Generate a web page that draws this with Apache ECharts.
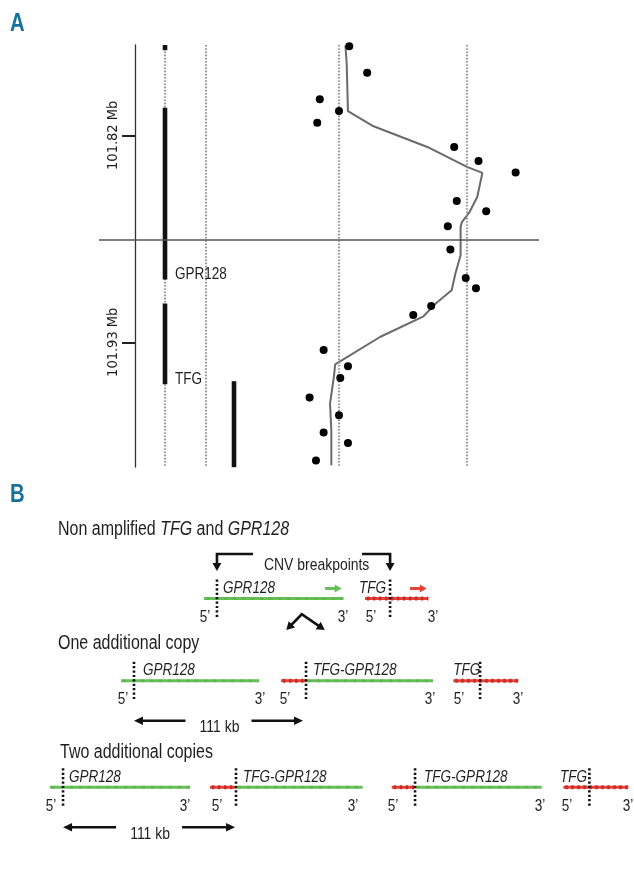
<!DOCTYPE html>
<html><head><meta charset="utf-8">
<script src="https://cdn.jsdelivr.net/npm/echarts@6/dist/echarts.min.js"></script>
<style>html,body{margin:0;padding:0;background:#fff}#c{width:634px;height:874px}</style>
</head><body><div id="c"></div>
<script>
// ================= Panel A data =================
const positionTicksMb = [101.82, 101.93];
const probePositionMb = [101.7727, 101.7867, 101.8009, 101.8071, 101.8133, 101.8262, 101.8337, 101.8398, 101.8549, 101.8604, 101.8684, 101.8807, 101.8958, 101.9013, 101.9107, 101.9155, 101.9341, 101.9428, 101.9490, 101.9594, 101.9688, 101.9780, 101.9835, 101.9929];
const probeCopyNumber = [2.08, 2.22, 1.85, 2.00, 1.83, 2.90, 3.09, 3.38, 2.92, 3.15, 2.85, 2.87, 2.99, 3.07, 2.72, 2.58, 1.88, 2.07, 2.01, 1.77, 2.00, 1.88, 2.07, 1.82];
const smoothPositionMb = [101.7722, 101.7817, 101.8072, 101.8152, 101.8262, 101.8368, 101.8400, 101.8528, 101.8608, 101.8661, 101.8687, 101.8838, 101.8933, 101.9024, 101.9091, 101.9162, 101.9272, 101.9417, 101.9484, 101.9626, 101.9768, 101.9954];
const smoothCopyNumber = [2.05, 2.06, 2.07, 2.27, 2.69, 3.00, 3.12, 3.08, 3.02, 2.96, 2.95, 2.95, 2.91, 2.88, 2.76, 2.66, 2.32, 1.97, 1.96, 1.93, 1.94, 1.94];
const referenceCopyNumbers = [2, 3];
const boundaryMb = [101.8753];
const geneNames = ['', 'GPR128', 'TFG'];
const geneStartMb = [101.7720, 101.8053, 101.9094];
const geneEndMb = [101.7748, 101.8967, 101.9523];
const cnvStartMb = [101.9507];
const cnvEndMb = [101.9964];

// ================= Panel B data (kb) =================
const rowTitles = ['Non amplified {i|TFG} and {i|GPR128}', 'One additional copy', 'Two additional copies'];
const segRow = [0, 0, 1, 1, 1, 1, 2, 2, 2, 2, 2, 2];
const segGene = ['GPR128', 'TFG', 'GPR128', 'TFG', 'GPR128', 'TFG', 'GPR128', 'TFG', 'GPR128', 'TFG', 'GPR128', 'TFG'];
const segStartKb = [134.0, 239.7, 79.5, 184.6, 201.0, 297.7, 32.8, 137.9, 155.0, 257.3, 272.6, 370.0];
const segEndKb = [225.5, 281.3, 170.1, 201.0, 284.4, 340.4, 124.8, 155.0, 238.2, 272.6, 355.8, 412.7];
const bpRow = [0, 0, 1, 1, 1, 2, 2, 2, 2];
const bpKb = [142.5, 256.2, 88.0, 201.0, 315.3, 41.4, 155.0, 272.6, 387.1];
const labelRow = [0, 0, 1, 1, 1, 2, 2, 2, 2];
const labelText = ['GPR128', 'TFG', 'GPR128', 'TFG-GPR128', 'TFG', 'GPR128', 'TFG-GPR128', 'TFG-GPR128', 'TFG'];
const labelKb = [146.5, 235.8, 93.9, 205.6, 297.7, 45.3, 159.6, 278.5, 367.8];
const primeRow = [0, 0, 0, 0, 1, 1, 1, 1, 1, 1, 2, 2, 2, 2, 2, 2, 2, 2];
const primeText = ['5’', '3’', '5’', '3’', '5’', '3’', '5’', '3’', '5’', '3’', '5’', '3’', '5’', '3’', '5’', '3’', '5’', '3’'];
const primeKb = [134.6, 225.3, 243.7, 284.4, 80.8, 170.8, 187.2, 282.4, 301.5, 340.2, 33.5, 121.5, 142.5, 231.9, 258.1, 354.7, 372.4, 412.5];
const dirRow = [0, 0];
const dirGene = ['GPR128', 'TFG'];
const dirStartKb = [213.5, 269.3];
const dirEndKb = [224.4, 280.3];
const spanRow = [1, 2];
const spanFromKb = [88.0, 41.4];
const spanToKb = [199.0, 154.4];
const spanLabel = ['111 kb', '111 kb'];
const cnvCalloutRow = [0];
const cnvCalloutLeftKb = [142.5];
const cnvCalloutRightKb = [256.2];
const cnvCalloutText = ['CNV breakpoints'];
const transitionKb = [198.2];

// ================= layout / style =================
const SANS = '"Liberation Sans",Arial,sans-serif';
const COND = '"DejaVu Sans Condensed",sans-serif';
const NARROW = 0.82;
const TXT = '#1e1e1e';
const BLUE = '#17729b';
const GREEN = '#66bf57', GREEN2 = '#56ad48';
const RED = '#e5433a', RED2 = '#c9261f';
const TRACK = {gene: 66, second: 107, cnv: 135};
const rowLineY = [118.5, 200.7, 307.3];
const geneColor = g => g === 'TFG' ? RED : GREEN;

function head(tx, ty, dx, dy, len, hw, color) {
  const bx = tx - dx * len, by = ty - dy * len, nx = -dy, ny = dx;
  return {type: 'polygon', shape: {points: [[tx, ty], [bx + nx * hw, by + ny * hw], [bx - nx * hw, by - ny * hw]]}, style: {fill: color}};
}
function txt(x, y, text, font, align) {
  return {type: 'text', x: x, y: y, scaleX: NARROW, style: {text: text, font: font, fill: TXT, align: align || 'left', verticalAlign: 'middle'}};
}

const chart = echarts.init(document.getElementById('c'));
const rowTitleY = [530, 644, 753];
const rowTitleX = [58, 58, 60];

chart.setOption({
  animation: false,
  graphic: [
    {type: 'text', x: 10, y: 24, scaleX: 0.78, silent: true, style: {text: 'A', font: 'bold 26px ' + SANS, fill: BLUE, verticalAlign: 'middle'}},
    {type: 'text', x: 10, y: 495, scaleX: 0.78, silent: true, style: {text: 'B', font: 'bold 26px ' + SANS, fill: BLUE, verticalAlign: 'middle'}}
  ].concat(rowTitles.map((t, i) => ({type: 'text', x: rowTitleX[i], y: rowTitleY[i], scaleX: NARROW, silent: true,
    style: {text: t, font: '19.5px ' + SANS, fill: TXT, verticalAlign: 'middle',
      rich: {i: {font: 'italic 19.5px ' + SANS, fill: TXT}}}}))),
  grid: [
    {left: 99, top: 45, width: 440, height: 422},
    {left: 0, top: 480, width: 634, height: 394}
  ],
  xAxis: [
    {type: 'value', gridIndex: 0, min: 0.125, max: 3.5625, show: false},
    {type: 'value', gridIndex: 0, min: 0, max: 440, show: false},
    {type: 'value', gridIndex: 1, min: 0, max: 416.4, show: false}
  ],
  yAxis: [
    {type: 'value', gridIndex: 0, inverse: true, min: 101.772, max: 101.9963, offset: -36,
      splitLine: {show: false},
      axisLine: {show: true, lineStyle: {color: '#333', width: 1.3}},
      axisTick: {show: true, customValues: positionTicksMb, length: 13, lineStyle: {color: '#222', width: 2}},
      axisLabel: {customValues: positionTicksMb, rotate: 90, margin: 14, color: TXT, fontFamily: COND, fontSize: 14.5,
        formatter: v => v.toFixed(2) + ' Mb'}},
    {type: 'value', gridIndex: 1, inverse: true, min: 0, max: 394, show: false}
  ],
  series: [
    // dotted track guides
    {type: 'custom', xAxisIndex: 1, yAxisIndex: 0, silent: true, z: 1,
      data: [[TRACK.gene], [TRACK.second]],
      renderItem: (p, api) => {
        const a = api.coord([api.value(0), 101.772]), b = api.coord([api.value(0), 101.9963]);
        return {type: 'line', shape: {x1: a[0], y1: a[1], x2: b[0], y2: b[1]}, style: {stroke: '#888', lineWidth: 1.8, lineDash: [1.6, 1.6]}};
      }},
    // genes
    {type: 'custom', xAxisIndex: 1, yAxisIndex: 0, silent: true, z: 3,
      data: geneStartMb.map((s, i) => [TRACK.gene, s, geneEndMb[i]]),
      encode: {x: 0, y: [1, 2]},
      renderItem: (p, api) => {
        const i = p.dataIndex;
        const a = api.coord([api.value(0), api.value(1)]), b = api.coord([api.value(0), api.value(2)]);
        const ch = [{type: 'line', shape: {x1: a[0], y1: a[1], x2: b[0], y2: b[1]}, style: {stroke: '#111', lineWidth: 4.6}}];
        if (geneNames[i]) ch.push(txt(b[0] + 10, b[1] - 5, geneNames[i], '16.5px ' + SANS));
        return {type: 'group', children: ch};
      }},
    // CNV segment
    {type: 'custom', xAxisIndex: 1, yAxisIndex: 0, silent: true, z: 3,
      data: cnvStartMb.map((s, i) => [TRACK.cnv, s, cnvEndMb[i]]),
      encode: {x: 0, y: [1, 2]},
      renderItem: (p, api) => {
        const a = api.coord([api.value(0), api.value(1)]), b = api.coord([api.value(0), api.value(2)]);
        return {type: 'line', shape: {x1: a[0], y1: a[1], x2: b[0], y2: b[1]}, style: {stroke: '#111', lineWidth: 4.6}};
      }},
    // smoothed copy number
    {type: 'line', xAxisIndex: 0, yAxisIndex: 0, silent: true, z: 4, symbol: 'none',
      data: smoothCopyNumber.map((c, i) => [c, smoothPositionMb[i]]),
      lineStyle: {color: '#6a6a6a', width: 2},
      markLine: {silent: true, symbol: 'none', precision: 6, label: {show: false},
        data: referenceCopyNumbers.map(v => ({xAxis: v, lineStyle: {color: '#888', width: 1.8, type: [1.6, 1.6]}}))
          .concat(boundaryMb.map(v => ({yAxis: v, lineStyle: {color: '#555', width: 1.6, type: 'solid'}})))}},
    // probes
    {type: 'scatter', xAxisIndex: 0, yAxisIndex: 0, silent: true, z: 5, symbolSize: 8,
      itemStyle: {color: '#000', opacity: 1},
      data: probeCopyNumber.map((c, i) => [c, probePositionMb[i]])},

    // ===== Panel B =====
    // segments
    {type: 'custom', xAxisIndex: 2, yAxisIndex: 1, silent: true, z: 2,
      data: segStartKb.map((s, i) => [s, segEndKb[i], rowLineY[segRow[i]]]),
      encode: {x: [0, 1], y: 2},
      renderItem: (p, api) => {
        const i = p.dataIndex;
        const a = api.coord([api.value(0), api.value(2)]), b = api.coord([api.value(1), api.value(2)]);
        const red = segGene[i] === 'TFG';
        return {type: 'group', children: [
          {type: 'line', shape: {x1: a[0], y1: a[1], x2: b[0], y2: b[1]}, style: {stroke: red ? RED : GREEN, lineWidth: 3}},
          {type: 'line', shape: {x1: a[0] + 2, y1: a[1], x2: b[0], y2: b[1]}, style: {stroke: red ? RED2 : GREEN2, lineWidth: red ? 4 : 3, lineDash: red ? [2.4, 3.6] : [3, 6], opacity: red ? 0.9 : 0.5}}
        ]};
      }},
    // breakpoints
    {type: 'custom', xAxisIndex: 2, yAxisIndex: 1, silent: true, z: 3,
      data: bpKb.map((k, i) => [k, rowLineY[bpRow[i]]]),
      renderItem: (p, api) => {
        const a = api.coord([api.value(0), api.value(1)]);
        return {type: 'line', shape: {x1: a[0], y1: a[1] - 19, x2: a[0], y2: a[1] + 19}, style: {stroke: '#111', lineWidth: 2.6, lineDash: [2.2, 2.2]}};
      }},
    // gene labels
    {type: 'custom', xAxisIndex: 2, yAxisIndex: 1, silent: true, z: 4,
      data: labelKb.map((k, i) => [k, rowLineY[labelRow[i]]]),
      renderItem: (p, api) => {
        const a = api.coord([api.value(0), api.value(1)]);
        return txt(a[0], a[1] - 10, labelText[p.dataIndex], 'italic 16.5px ' + SANS);
      }},
    // 5'/3' labels
    {type: 'custom', xAxisIndex: 2, yAxisIndex: 1, silent: true, z: 4,
      data: primeKb.map((k, i) => [k, rowLineY[primeRow[i]]]),
      renderItem: (p, api) => {
        const a = api.coord([api.value(0), api.value(1)]);
        return txt(a[0], a[1] + 19, primeText[p.dataIndex], '16.5px ' + SANS, 'center');
      }},
    // direction arrows
    {type: 'custom', xAxisIndex: 2, yAxisIndex: 1, silent: true, z: 4,
      data: dirStartKb.map((s, i) => [s, dirEndKb[i], rowLineY[dirRow[i]]]),
      encode: {x: [0, 1], y: 2},
      renderItem: (p, api) => {
        const c = geneColor(dirGene[p.dataIndex]);
        const a = api.coord([api.value(0), api.value(2)]), b = api.coord([api.value(1), api.value(2)]);
        const y = a[1] - 10;
        return {type: 'group', children: [
          {type: 'line', shape: {x1: a[0], y1: y, x2: b[0] - 5, y2: y}, style: {stroke: c, lineWidth: 3}},
          head(b[0], y, 1, 0, 7, 4, c)
        ]};
      }},
    // span arrows
    {type: 'custom', xAxisIndex: 2, yAxisIndex: 1, silent: true, z: 4,
      data: spanFromKb.map((s, i) => [s, spanToKb[i], rowLineY[spanRow[i]]]),
      encode: {x: [0, 1], y: 2},
      renderItem: (p, api) => {
        const a = api.coord([api.value(0), api.value(2)]), b = api.coord([api.value(1), api.value(2)]);
        const y = a[1] + 40, mid = (a[0] + b[0]) / 2, gap = 33;
        return {type: 'group', children: [
          {type: 'line', shape: {x1: mid - gap, y1: y, x2: a[0] + 6, y2: y}, style: {stroke: '#111', lineWidth: 2.6}},
          head(a[0], y, -1, 0, 9, 4.2, '#111'),
          {type: 'line', shape: {x1: mid + gap, y1: y, x2: b[0] - 6, y2: y}, style: {stroke: '#111', lineWidth: 2.6}},
          head(b[0], y, 1, 0, 9, 4.2, '#111'),
          txt(mid + 1, y + 7, spanLabel[p.dataIndex], '17px ' + SANS, 'center')
        ]};
      }},
    // CNV breakpoint callouts
    {type: 'custom', xAxisIndex: 2, yAxisIndex: 1, silent: true, z: 4,
      data: cnvCalloutLeftKb.map((s, i) => [s, cnvCalloutRightKb[i], rowLineY[cnvCalloutRow[i]]]),
      encode: {x: [0, 1], y: 2},
      renderItem: (p, api) => {
        const a = api.coord([api.value(0), api.value(2)]), b = api.coord([api.value(1), api.value(2)]);
        const hy = a[1] - 44.5, tip = a[1] - 27.5;
        const ls = {stroke: '#111', lineWidth: 2.6, fill: 'none', lineJoin: 'miter'};
        return {type: 'group', children: [
          {type: 'polyline', shape: {points: [[a[0] + 36, hy], [a[0], hy], [a[0], tip - 6]]}, style: ls},
          head(a[0], tip, 0, 1, 8, 4.5, '#111'),
          {type: 'polyline', shape: {points: [[b[0] - 28, hy], [b[0], hy], [b[0], tip - 6]]}, style: ls},
          head(b[0], tip, 0, 1, 8, 4.5, '#111'),
          txt(a[0] + 47, a[1] - 33.5, cnvCalloutText[p.dataIndex], '17px ' + SANS)
        ]};
      }},
    // transition chevron
    {type: 'custom', xAxisIndex: 2, yAxisIndex: 1, silent: true, z: 4,
      data: transitionKb.map(k => [k, rowLineY[0]]),
      renderItem: (p, api) => {
        const a = api.coord([api.value(0), api.value(1)]);
        const ax = a[0], ay = a[1] + 15.8, ly = a[1] + 31.5;
        const L = [ax - 15.5, ly], R = [ax + 23, ly];
        const dl = [L[0] - ax, L[1] - ay], dr = [R[0] - ax, R[1] - ay];
        const nl = Math.hypot(dl[0], dl[1]), nr = Math.hypot(dr[0], dr[1]);
        return {type: 'group', children: [
          {type: 'polyline', shape: {points: [[L[0] - dl[0] / nl * 6, L[1] - dl[1] / nl * 6], [ax, ay], [R[0] - dr[0] / nr * 6, R[1] - dr[1] / nr * 6]]}, style: {stroke: '#111', lineWidth: 2.6, fill: 'none'}},
          head(L[0], L[1], dl[0] / nl, dl[1] / nl, 8, 4.5, '#111'),
          head(R[0], R[1], dr[0] / nr, dr[1] / nr, 8, 4.5, '#111')
        ]};
      }}
  ]
});
</script></body></html>
